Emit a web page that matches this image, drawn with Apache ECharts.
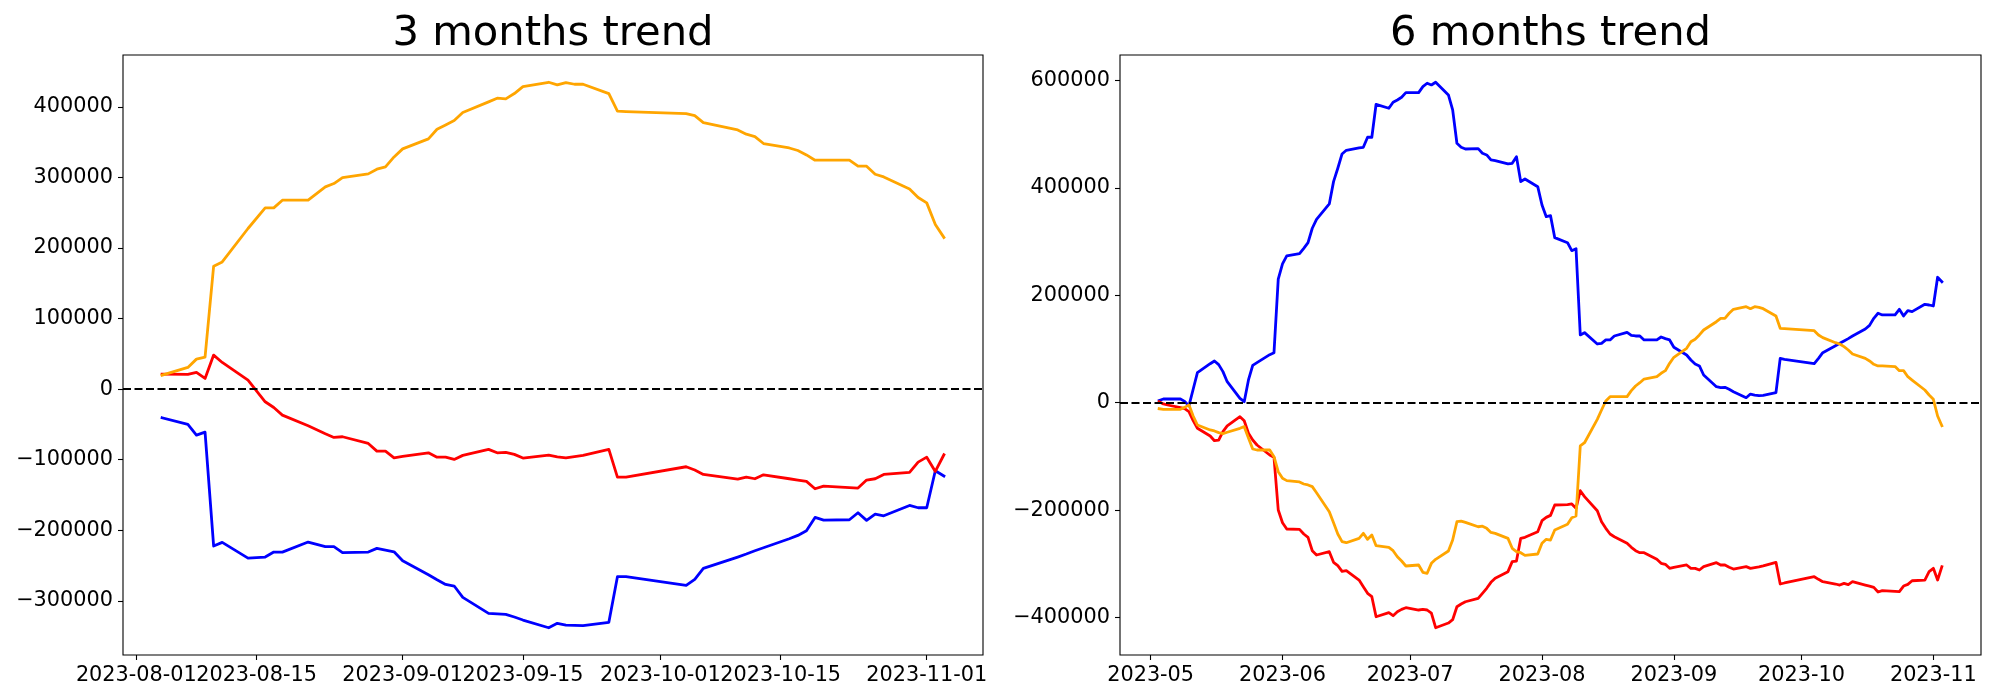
<!DOCTYPE html>
<html>
<head>
<meta charset="utf-8">
<script src="https://cdn.jsdelivr.net/npm/echarts@6/dist/echarts.min.js"></script>
<style>
html,body{margin:0;padding:0;background:#fff;}
#chart{width:2000px;height:700px;}
</style>
</head>
<body>
<div id="chart"></div>
<script>
// ---------- DATA ----------
const titles = ['3 months trend', '6 months trend'];

// 3 months (left)
const dates3m = [
 '2023-08-04','2023-08-07','2023-08-08','2023-08-09','2023-08-10','2023-08-11','2023-08-14','2023-08-16','2023-08-17','2023-08-18',
 '2023-08-21','2023-08-23','2023-08-24','2023-08-25','2023-08-28','2023-08-29','2023-08-30','2023-08-31',
 '2023-09-01','2023-09-04','2023-09-05','2023-09-06','2023-09-07','2023-09-08','2023-09-11','2023-09-12','2023-09-13','2023-09-14',
 '2023-09-15','2023-09-18','2023-09-19','2023-09-20','2023-09-21','2023-09-22','2023-09-25','2023-09-26','2023-09-27',
 '2023-10-04','2023-10-05','2023-10-06','2023-10-10','2023-10-11','2023-10-12','2023-10-13','2023-10-16','2023-10-17','2023-10-18',
 '2023-10-19','2023-10-20','2023-10-23','2023-10-24','2023-10-25','2023-10-26','2023-10-27','2023-10-30','2023-10-31',
 '2023-11-01','2023-11-02','2023-11-03'
];
const orange3m = [
 19800,30700,42500,45300,174200,180300,227600,256800,256800,267700,267700,286600,291300,299800,305000,311600,314900,329000,
 340400,354600,368300,374400,380600,391900,407000,412200,411300,418800,428700,434800,431000,434400,432000,432000,418800,393800,393300,
 390500,387600,377700,367300,361200,357900,348000,341700,338100,331900,324400,324500,324600,315900,315900,304500,300700,283700,271500,
 263900,233300,214900
];
const red3m = [
 21200,20800,23600,15100,48200,37800,12700,-17900,-26000,-36800,-51900,-63300,-68500,-67500,-77000,-87800,-87800,-97300,
 -95400,-90200,-96400,-96400,-99600,-93900,-85400,-90200,-89700,-92500,-97700,-93500,-95900,-97300,-95600,-93900,-85400,-124600,-124600,
 -110000,-114700,-120900,-127500,-124600,-127000,-121400,-127000,-128900,-130800,-141200,-137400,-139500,-140200,-128900,-127000,-120900,-118000,-103400,
 -96400,-116600,-93000
];
const blue3m = [
 -40600,-50000,-65200,-60900,-222400,-217200,-239400,-238000,-230900,-230900,-216700,-223300,-223300,-231800,-230900,-225700,-228100,-230500,
 -243100,-263000,-270100,-276700,-279000,-295100,-317700,-318400,-319100,-322900,-327200,-338100,-331900,-334300,-334800,-335200,-330500,-265800,-265800,
 -278100,-269600,-254000,-238000,-233700,-229000,-224800,-212000,-207300,-200700,-181800,-185600,-185100,-175200,-186000,-177100,-179500,-164800,-168100,
 -168100,-115700,-123200
];
const xTicks3m = ['2023-08-01','2023-08-15','2023-09-01','2023-09-15','2023-10-01','2023-10-15','2023-11-01'];
const yTicks3m = [-300000,-200000,-100000,0,100000,200000,300000,400000];

// 6 months (right)
const dates6m = [
 '2023-05-03','2023-05-04','2023-05-05','2023-05-08','2023-05-09','2023-05-10','2023-05-11','2023-05-12','2023-05-15','2023-05-16',
 '2023-05-17','2023-05-18','2023-05-19','2023-05-22','2023-05-23','2023-05-24','2023-05-25','2023-05-26','2023-05-29','2023-05-30','2023-05-31',
 '2023-06-01','2023-06-02','2023-06-05','2023-06-06','2023-06-07','2023-06-08','2023-06-09','2023-06-12','2023-06-13','2023-06-14',
 '2023-06-15','2023-06-16','2023-06-19','2023-06-20','2023-06-21','2023-06-22','2023-06-23','2023-06-26','2023-06-27','2023-06-28','2023-06-29','2023-06-30',
 '2023-07-03','2023-07-04','2023-07-05','2023-07-06','2023-07-07','2023-07-10','2023-07-11','2023-07-12','2023-07-13','2023-07-14',
 '2023-07-17','2023-07-18','2023-07-19','2023-07-20','2023-07-21','2023-07-24','2023-07-25','2023-07-26','2023-07-27','2023-07-28','2023-07-31',
 '2023-08-01','2023-08-02','2023-08-03','2023-08-04','2023-08-07','2023-08-08','2023-08-09','2023-08-10','2023-08-11','2023-08-14',
 '2023-08-15','2023-08-16','2023-08-17','2023-08-18','2023-08-21','2023-08-22','2023-08-23','2023-08-24','2023-08-25','2023-08-28',
 '2023-08-29','2023-08-30','2023-08-31',
 '2023-09-01','2023-09-04','2023-09-05','2023-09-06','2023-09-07','2023-09-08','2023-09-11','2023-09-12','2023-09-13','2023-09-14',
 '2023-09-15','2023-09-18','2023-09-19','2023-09-20','2023-09-21','2023-09-22','2023-09-25','2023-09-26','2023-09-27',
 '2023-10-04','2023-10-05','2023-10-06','2023-10-09','2023-10-10','2023-10-11','2023-10-12','2023-10-13','2023-10-16','2023-10-17',
 '2023-10-18','2023-10-19','2023-10-20','2023-10-23','2023-10-24','2023-10-25','2023-10-26','2023-10-27','2023-10-30','2023-10-31',
 '2023-11-01','2023-11-02','2023-11-03'
];
const blue6m = [
 4000,6900,6900,6900,2500,-6000,25000,55900,72600,77700,70900,57800,39100,8100,1900,42300,69600,74700,89400,93100,230000,
 258300,273200,277500,287500,298000,324800,341500,370000,411600,436500,463100,470000,474300,475500,494200,494200,555600,548200,559400,563700,568700,577300,
 577300,588500,594800,591600,596600,573000,545100,483000,475600,472400,473000,464400,461300,452000,450700,444500,445800,458100,411600,416600,402200,
 368000,346400,348300,307300,297900,283100,286800,126100,130400,109300,110500,116800,116800,124200,131100,125500,124200,124200,116800,116800,122300,119200,116800,
 103200,88800,79500,72100,68400,51600,29800,28000,28700,24900,20500,9300,16100,14300,13000,13700,18600,82600,80800,
 72800,82600,93100,106100,110600,115000,119300,124200,137200,144000,157100,166500,163400,163400,173900,161500,171400,169600,183200,181900,
 180100,233500,225300
];
const orange6m = [
 -11200,-12400,-12400,-12400,-8700,-4000,-24800,-41500,-50800,-52600,-55700,-57600,-55100,-47700,-44600,-65800,-86200,-88100,-88100,-100500,-128400,
 -140800,-145100,-147600,-151400,-153200,-156300,-167600,-203000,-223500,-244500,-258800,-260700,-252600,-243200,-254400,-246400,-266300,-269400,-275600,-286800,-294800,-304100,
 -302200,-315800,-317700,-299100,-291600,-276200,-255700,-221600,-220400,-222900,-231000,-230000,-234000,-241500,-243400,-252600,-271100,-277400,-279300,-284200,-281700,
 -261800,-254400,-255700,-237000,-226500,-214100,-211000,-80600,-74500,-31000,-13600,3200,11200,11200,11200,22400,31100,37200,44100,48500,54700,59600,73300,
 84500,101300,113600,118200,126100,135400,150800,157100,157100,166500,173900,178800,175000,178800,177600,175000,161500,138500,137900,
 134100,126100,121100,111700,109300,104300,98100,90700,82600,77700,71500,68400,68400,67200,59600,59600,48400,42200,23600,14300,
 6300,-24800,-42800
];
const red6m = [
 1900,-2300,-4300,-9300,-11200,-16800,-33500,-47700,-62000,-70800,-69500,-54000,-43300,-26100,-33500,-57000,-69500,-78800,-97400,-101800,-199800,
 -223500,-235200,-235800,-244500,-250700,-275600,-283600,-277400,-297200,-303400,-314000,-312700,-330200,-342600,-355000,-361200,-398500,-391000,-396600,-389200,-384800,-381700,
 -386000,-384800,-386000,-392000,-419000,-410300,-404100,-379900,-374900,-370600,-364300,-355000,-345600,-334500,-327000,-314600,-296000,-294800,-252600,-250700,-240200,
 -219700,-213500,-209800,-190500,-189900,-188600,-196700,-163900,-175000,-201100,-221600,-233900,-244500,-249500,-261800,-269300,-275600,-279300,-279300,-291600,-299100,-300900,-308400,
 -306500,-302200,-308400,-308400,-311500,-305300,-297900,-302200,-302200,-306500,-309700,-305300,-308400,-307100,-305900,-304000,-297200,-337600,-335700,
 -324000,-328900,-333300,-337600,-339500,-336400,-338900,-333300,-339500,-341400,-343900,-352500,-350000,-351300,-351900,-341400,-338300,-331500,-330200,-314700,
 -308400,-330200,-305300
];
const xTicks6m = ['2023-05-01','2023-06-01','2023-07-01','2023-08-01','2023-09-01','2023-10-01','2023-11-01'];
const yTicks6m = [-400000,-200000,0,200000,400000,600000];

// ---------- BUILD ----------
const FONT = 'DejaVu Sans';
const toTs = d => { const p = d.split('-').map(Number); return Date.UTC(p[0], p[1]-1, p[2]); };
const pad2 = n => (n < 10 ? '0' : '') + n;
const fmtDay = v => { const d = new Date(v); return d.getUTCFullYear() + '-' + pad2(d.getUTCMonth()+1) + '-' + pad2(d.getUTCDate()); };
const fmtMonth = v => { const d = new Date(v); return d.getUTCFullYear() + '-' + pad2(d.getUTCMonth()+1); };
const fmtNum = v => (v < 0 ? '\u2212' + Math.abs(v) : String(v));

function autoRange(arr) {
  const lo = Math.min(...arr), hi = Math.max(...arr), p = 0.05 * (hi - lo);
  return [lo - p, hi + p];
}

const grids = [
  {left: 123, top: 55, width: 860, height: 600},
  {left: 1120, top: 55, width: 861, height: 600}
];

const plots = [
  {dates: dates3m, blue: blue3m, red: red3m, orange: orange3m, xt: xTicks3m, yt: yTicks3m, fmt: fmtDay},
  {dates: dates6m, blue: blue6m, red: red6m, orange: orange6m, xt: xTicks6m, yt: yTicks6m, fmt: fmtMonth}
];

const xAxes = [], xAxesAlt = [], yAxes = [], series = [], graphics = [];
plots.forEach((p, i) => {
  const ts = p.dates.map(toTs);
  const xr = autoRange(ts);
  const yr = autoRange(p.blue.concat(p.red, p.orange));
  const xtv = p.xt.map(toTs);
  const evenV = xtv.filter((v, k) => k % 2 === 0);
  const oddV = xtv.filter((v, k) => k % 2 === 1);
  const labelStyle = {show: true, margin: 10, color: '#000', fontFamily: FONT, fontSize: 20.8,
      formatter: v => p.fmt(v), hideOverlap: false, showMinLabel: true, showMaxLabel: true};
  xAxes.push({
    type: 'value', gridIndex: i, min: xr[0], max: xr[1], scale: true, position: 'bottom',
    axisLine: {show: false, onZero: false},
    splitLine: {show: false},
    axisTick: {show: true, length: 5, lineStyle: {color: '#000', width: 1.1}, customValues: xtv},
    axisLabel: Object.assign({customValues: evenV}, labelStyle)
  });
  xAxesAlt.push({
    type: 'value', gridIndex: i, min: xr[0], max: xr[1], scale: true, position: 'bottom',
    axisLine: {show: false, onZero: false},
    splitLine: {show: false},
    axisTick: {show: false},
    axisLabel: Object.assign({customValues: oddV}, labelStyle)
  });
  yAxes.push({
    type: 'value', gridIndex: i, min: yr[0], max: yr[1], scale: true, position: 'left',
    axisLine: {show: false, onZero: false},
    splitLine: {show: false},
    axisTick: {show: true, length: 5, lineStyle: {color: '#000', width: 1.1}, customValues: p.yt},
    axisLabel: {show: true, margin: 10, color: '#000', fontFamily: FONT, fontSize: 20.8,
      customValues: p.yt, formatter: v => fmtNum(v), showMinLabel: true, showMaxLabel: true}
  });
  const mk = (vals, color, z) => ({
    type: 'line', xAxisIndex: i, yAxisIndex: i, z: z,
    data: ts.map((t, k) => [t, vals[k]]),
    showSymbol: false, symbol: 'none', silent: true,
    lineStyle: {color: color, width: 2.8, join: 'round', cap: 'square'},
    animation: false
  });
  series.push(mk(p.blue, '#0000ff', 2));
  series.push(mk(p.red, '#ff0000', 3));
  const s = mk(p.orange, '#ffa500', 4);
  s.markLine = {
    silent: true, symbol: ['none', 'none'], label: {show: false}, animation: false,
    lineStyle: {color: '#000', type: [8, 3.5], width: 2.2},
    emphasis: {disabled: true},
    data: [{yAxis: 0}]
  };
  series.push(s);
  const g = grids[i];
  graphics.push({
    type: 'text', x: g.left + g.width / 2, y: 34, z: 10,
    style: {text: titles[i], fill: '#000', font: 'normal 41.7px "' + FONT + '"',
      textAlign: 'center', textVerticalAlign: 'middle'}
  });
});

const chart = echarts.init(document.getElementById('chart'), null, {renderer: 'canvas', width: 2000, height: 700});
chart.setOption({
  backgroundColor: '#ffffff',
  animation: false,
  grid: grids.map(g => Object.assign({show: true, borderColor: '#000', borderWidth: 1.1, backgroundColor: 'transparent'}, g)),
  xAxis: xAxes.concat(xAxesAlt),
  yAxis: yAxes,
  series: series,
  graphic: graphics
});
</script>
</body>
</html>
